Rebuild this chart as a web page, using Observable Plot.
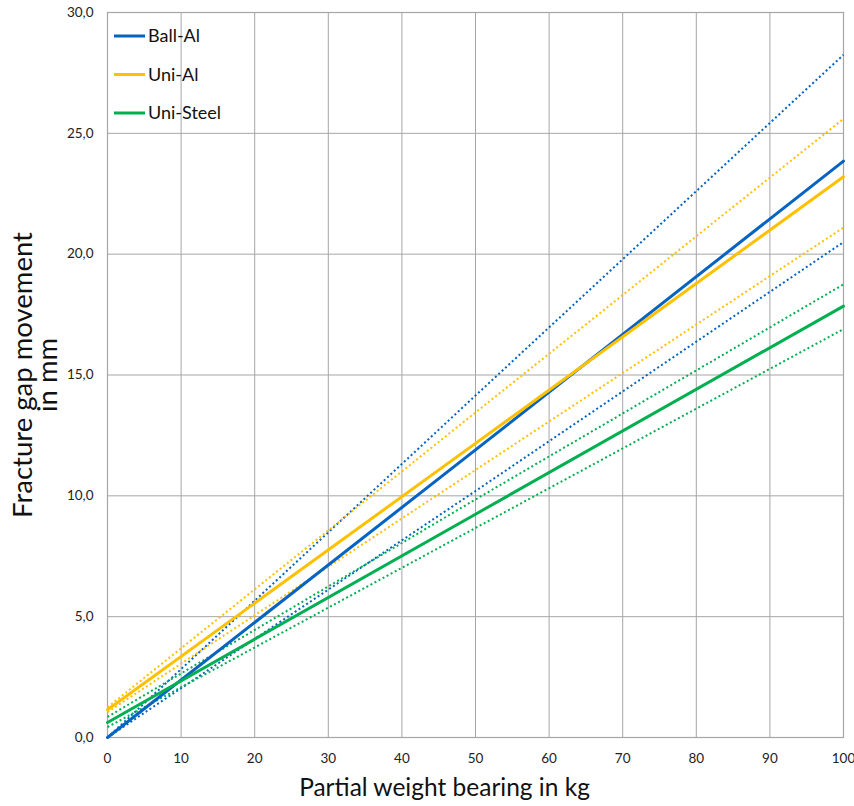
<!DOCTYPE html>
<html>
<head>
<meta charset="utf-8">
<script src="https://cdn.jsdelivr.net/npm/d3@7"></script>
<script src="https://cdn.jsdelivr.net/npm/@observablehq/plot@0.6"></script>
<style>
  html, body { margin: 0; padding: 0; background: #fff; }
  #chart { width: 854px; height: 806px; }
</style>
</head>
<body>
<div id="chart"></div>
<script>
// Partial weight bearing in kg (x positions where values were read)
const weights = [0, 50, 100];

// Fracture gap movement in mm
const ballAl       = [0.00, 11.90, 23.85];
const ballAlUpper  = [0.00, 14.15, 28.25];
const ballAlLower  = [0.00, 10.20, 20.50];
const uniAl        = [1.15, 12.17, 23.20];
const uniAlUpper   = [1.25, 13.45, 25.60];
const uniAlLower   = [1.05, 11.07, 21.10];
const uniSteel     = [0.62, 9.24, 17.85];
const uniSteelUpper= [0.85, 9.85, 18.75];
const uniSteelLower= [0.43, 8.67, 16.90];

const xTicks = [0, 10, 20, 30, 40, 50, 60, 70, 80, 90, 100];
const yTicks = [0, 5, 10, 15, 20, 25, 30];

const seriesNames = ["Ball-Al", "Uni-Al", "Uni-Steel"];
const seriesColors = ["#0563C1", "#FFC000", "#00B050"];

const toRows = (vals) => weights.map((w, i) => ({x: w, y: vals[i]}));

const solid = [ballAl, uniAl, uniSteel];
const bands = [[ballAlUpper, ballAlLower], [uniAlUpper, uniAlLower], [uniSteelUpper, uniSteelLower]];

const fmt = (d) => d3.format(".1f")(d).replace(".", ",");
const font = "Lato, 'Open Sans', sans-serif";

const dottedMarks = [];
bands.forEach((pair, k) => {
  pair.forEach(vals => {
    dottedMarks.push(Plot.line(toRows(vals), {
      x: "x", y: "y", stroke: seriesColors[k], strokeWidth: 2,
      strokeDasharray: "2,2.6", strokeLinecap: "butt"
    }));
  });
});
const solidMarks = solid.map((vals, k) => Plot.line(toRows(vals), {
  x: "x", y: "y", stroke: seriesColors[k], strokeWidth: 3
}));

// legend drawn inside the frame, top-left
const legendMark = (index, scales, values, dimensions) => {
  const g = d3.create("svg:g");
  seriesNames.forEach((name, i) => {
    const yy = dimensions.marginTop + 24 + i * 38.5;
    const x0 = dimensions.marginLeft + 7;
    g.append("line").attr("x1", x0).attr("x2", x0 + 31)
      .attr("y1", yy).attr("y2", yy)
      .attr("stroke", seriesColors[i]).attr("stroke-width", 3);
    g.append("text").attr("x", x0 + 34).attr("y", yy)
      .attr("dy", "0.35em").attr("font-size", 18)
      .attr("text-anchor", "start")
      .attr("font-family", font).attr("fill", "#111").text(name);
  });
  return g.node();
};

const chart = Plot.plot({
  width: 854,
  height: 806,
  marginLeft: 107,
  marginRight: 11,
  marginTop: 12,
  marginBottom: 69,
  style: {fontFamily: font, background: "#fff", color: "#222", overflow: "visible"},
  x: {domain: [0, 100]},
  y: {domain: [0, 30]},
  marks: [
    Plot.gridX(xTicks, {stroke: "#a6a6a6", strokeOpacity: 1, strokeWidth: 1}),
    Plot.gridY(yTicks, {stroke: "#a6a6a6", strokeOpacity: 1, strokeWidth: 1}),
    Plot.frame({stroke: "#a6a6a6", strokeWidth: 1.2}),
    Plot.axisX(xTicks, {tickSize: 0, tickPadding: 16, fontSize: 13.5, label: null, tickFormat: d3.format("d")}),
    Plot.axisY(yTicks, {tickSize: 0, tickPadding: 14, fontSize: 13.5, label: null, tickFormat: fmt}),
    ...dottedMarks,
    ...solidMarks,
    Plot.text(["Partial weight bearing in kg"], {
      frameAnchor: "bottom", dx: -31, dy: 58, fontSize: 24.5, fill: "#111", textAnchor: "middle"
    }),
    Plot.text(["Fracture gap movement\nin mm"], {
      frameAnchor: "left", dx: -71, rotate: -90, fontSize: 27.5, fill: "#111",
      lineHeight: 0.92, textAnchor: "middle"
    }),
    legendMark
  ]
});

document.getElementById("chart").appendChild(chart);
</script>
</body>
</html>
